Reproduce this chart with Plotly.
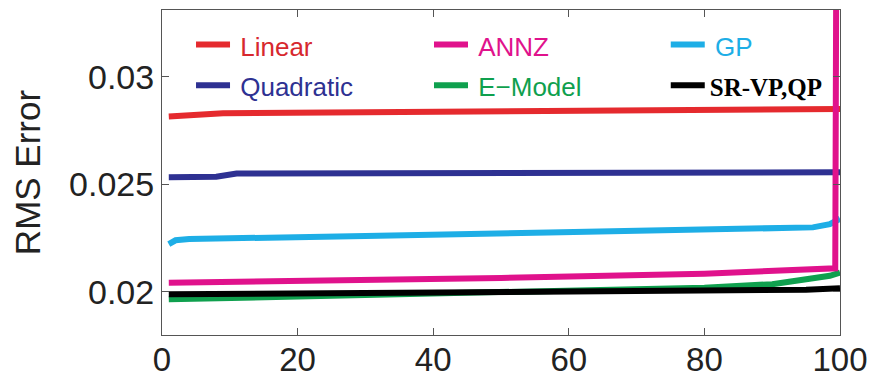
import plotly.graph_objects as go

# ---- data ----
linear_x = [1, 5, 9, 30, 57, 80, 100]
linear_y = [0.02815, 0.02822, 0.0283, 0.02835, 0.0284, 0.02845, 0.0285]

quad_x = [1, 8, 11, 30, 50, 80, 100]
quad_y = [0.02533, 0.02535, 0.0255, 0.02552, 0.02553, 0.02555, 0.02556]

gp_x = [1, 2, 4, 10, 30, 57, 80, 96, 98.5, 100]
gp_y = [0.02222, 0.0224, 0.02246, 0.02248, 0.0226, 0.02276, 0.0229, 0.0230, 0.02315, 0.0234]

annz_x = [1, 20, 50, 80, 98.7, 99.3, 99.5]
annz_y = [0.02043, 0.0205, 0.02065, 0.02085, 0.02106, 0.0211, 0.04]

emodel_x = [1, 20, 40, 60, 80, 90, 95, 98.5, 100]
emodel_y = [0.01966, 0.01978, 0.0199, 0.02005, 0.0202, 0.02036, 0.02055, 0.02075, 0.0209]

srvp_x = [1, 30, 60, 80, 90, 95, 100]
srvp_y = [0.01989, 0.01995, 0.02003, 0.02005, 0.02008, 0.0201, 0.02017]

x_ticks = [0, 20, 40, 60, 80, 100]
y_ticks = [0.02, 0.025, 0.03]
y_ticktext = ["0.02", "0.025", "0.03"]

C_RED = "#E52A2E"
C_NAVY = "#2E3192"
C_CYAN = "#1EAEE6"
C_MAG = "#E0128C"
C_GREEN = "#0FA04E"
C_BLACK = "#000000"

SANS = "Liberation Sans, Arial, sans-serif"
SERIF = "Liberation Serif, Times New Roman, serif"


def lbl(text, color):
    return f'<span style="color:{color};font-size:26px">\u2009{text}</span>'


series = [
    # (name, x, y, color, legend id, rank)
    (lbl("Linear", "#D7282E"), linear_x, linear_y, C_RED, "legend", 1),
    (lbl("Quadratic", C_NAVY), quad_x, quad_y, C_NAVY, "legend", 2),
    (lbl("GP", C_CYAN), gp_x, gp_y, C_CYAN, "legend3", 1),
    (lbl("E\u2212Model", C_GREEN), emodel_x, emodel_y, C_GREEN, "legend2", 2),
    (f'<span style="font-family:{SERIF};font-weight:bold;color:#000;'
     f'font-size:25px">SR-VP,QP</span>',
     srvp_x, srvp_y, C_BLACK, "legend3", 2),
    (lbl("ANNZ", C_MAG), annz_x, annz_y, C_MAG, "legend2", 1),
]

fig = go.Figure()
for name, xs, ys, color, leg, rank in series:
    fig.add_trace(go.Scatter(
        x=xs, y=ys, mode="lines", name=name,
        line=dict(color=color, width=6),
        legend=leg, legendrank=rank,
    ))

axis_common = dict(
    showline=True, linecolor="#555555", linewidth=1, mirror="ticks",
    ticks="inside", ticklen=7, tickcolor="#555555", showgrid=False,
    zeroline=False, automargin=False,
)

leg_common = dict(
    orientation="v", y=0.972, xanchor="left", yanchor="top",
    font=dict(size=29), bgcolor="rgba(0,0,0,0)", itemwidth=34,
    traceorder="normal",
)

fig.update_layout(
    width=873, height=379,
    margin=dict(l=162, r=33, t=10, b=44),
    paper_bgcolor="white", plot_bgcolor="white",
    font=dict(family=SANS, color="#222222"),
    showlegend=True,
    legend=dict(x=0.0428, **leg_common),
    legend2=dict(x=0.3938, **leg_common),
    legend3=dict(x=0.743, **leg_common),
    xaxis=dict(range=[0, 100], tickvals=x_ticks, ticktext=[str(v) for v in x_ticks],
               tickfont=dict(size=33, family=SANS, color="#222222"),
               ticklabelstandoff=-5, **axis_common),
    yaxis=dict(range=[0.018, 0.0331], tickvals=y_ticks, ticktext=y_ticktext,
               tickfont=dict(size=34, family=SANS, color="#222222"),
               title=dict(text="RMS Error", font=dict(size=35, family=SANS, color="#222222"),
                          standoff=17),
               **axis_common),
)

fig.write_html("out.html")
